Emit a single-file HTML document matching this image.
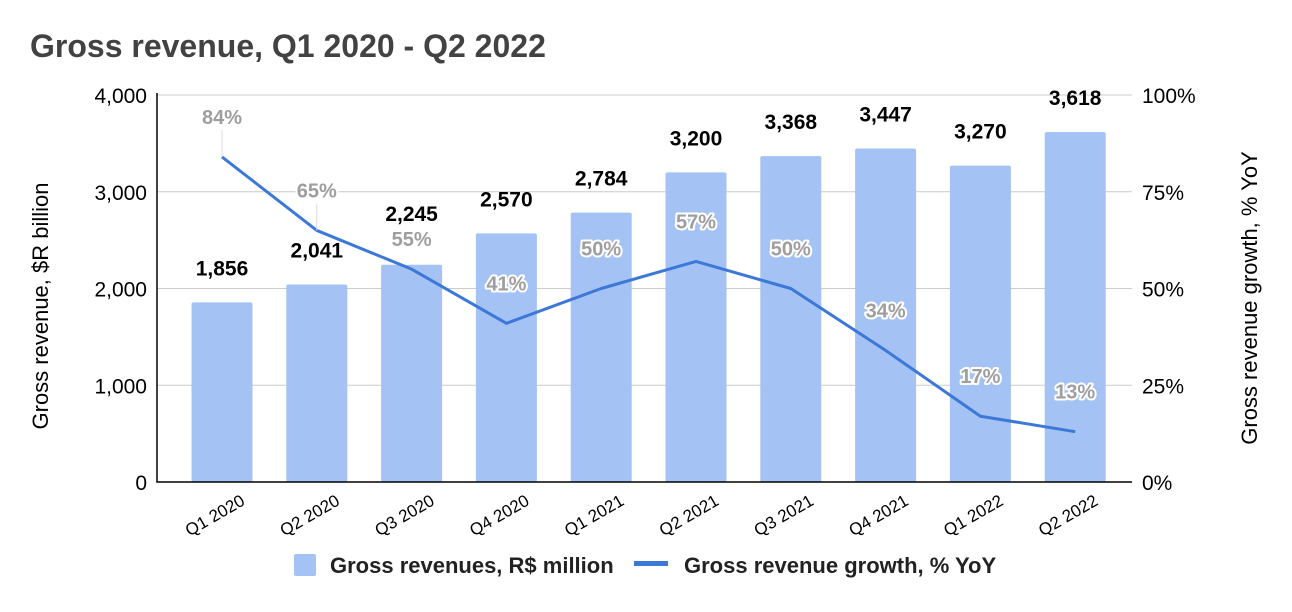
<!DOCTYPE html>
<html><head><meta charset="utf-8"><style>
body{margin:0;background:#fff;}
svg text{font-family:"Liberation Sans",Arial,sans-serif;}
</style></head><body>
<svg id="chart" width="1292" height="607" viewBox="0 0 1292 607">
<text x="30" y="57" font-size="32" font-weight="bold" fill="#424242">Gross revenue, Q1 2020 - Q2 2022</text>
<g id="grid"></g><g id="bars"></g><g id="line"></g><g id="labels"></g><g id="axes"></g>
<text transform="translate(48,306) rotate(-90)" text-anchor="middle" font-size="22" fill="#000">Gross revenue, $R billion</text>
<text transform="translate(1257,298) rotate(-90)" text-anchor="middle" font-size="22" fill="#000">Gross revenue growth, % YoY</text>
<g>
<rect x="294" y="554" width="22" height="22" rx="2" fill="#a4c2f4"/>
<text x="330" y="573" font-size="22" font-weight="bold" fill="#222">Gross revenues, R$ million</text>
<rect x="634" y="561" width="34" height="5" fill="#3c78d8"/>
<text x="684" y="573" font-size="22" font-weight="bold" fill="#222">Gross revenue growth, % YoY</text>
</g>
</svg>
<script>
const categories=["Q1 2020","Q2 2020","Q3 2020","Q4 2020","Q1 2021","Q2 2021","Q3 2021","Q4 2021","Q1 2022","Q2 2022"];
const revenue=[1856,2041,2245,2570,2784,3200,3368,3447,3270,3618];
const growth=[84,65,55,41,50,57,50,34,17,13];
const leftTicks=[0,1000,2000,3000,4000];
const rightTicks=[0,25,50,75,100];
const NS="http://www.w3.org/2000/svg";
const L=174.6,R=1122.6,T=95,B=482;
const band=(R-L)/categories.length;
const xc=i=>L+band*(i+0.5);
const yL=v=>B-(v/4000)*(B-T);
const yR=v=>B-(v/100)*(B-T);
function mk(tag,attrs,parent){const e=document.createElementNS(NS,tag);for(const k in attrs)e.setAttribute(k,attrs[k]);document.getElementById(parent).appendChild(e);return e;}
leftTicks.forEach((t,i)=>{
 const g=mk('line',{x1:157,x2:1132,y1:yL(t),y2:yL(t),stroke:'#ccc','stroke-width':1},'grid');
 
 
 const tx=mk('text',{x:147,y:yL(t)+8,'text-anchor':'end','font-size':21,fill:'#000'},'axes');
 tx.textContent=t.toLocaleString('en-US');
 
 
});
rightTicks.forEach(t=>{
 const tx=mk('text',{x:1142,y:yR(t)+8,'font-size':21,fill:'#000'},'axes');
 tx.textContent=t+'%';
 
 
});
const ax=mk('path',{d:`M157,${T-2} V${B} H1132`,fill:'none',stroke:'#000','stroke-width':1.5},'axes');


categories.forEach((c,i)=>{
 const b=mk('rect',{x:xc(i)-30.5,y:yL(revenue[i]),width:61,height:B-yL(revenue[i]),rx:2,fill:'#a4c2f4'},'bars');
 
 
 let vy=yL(revenue[i])-27;
 if(yR(growth[i])-28>yL(revenue[i])-50 && yR(growth[i])-28<yL(revenue[i])) vy=yL(revenue[i])-44;
 const v=mk('text',{x:xc(i),y:vy,'text-anchor':'middle','font-size':21,'font-weight':'bold',fill:'#000'},'labels');
 v.textContent=revenue[i].toLocaleString('en-US');
 
 
 const cx=mk('text',{x:0,y:0,'text-anchor':'end','font-size':17,fill:'#000',transform:`translate(${xc(i)+24},${B+22}) rotate(-30)`},'axes');
 cx.textContent=c;
 
 
});
const pts=growth.map((g,i)=>`${xc(i)},${yR(g)}`).join(' ');
const pl=mk('polyline',{points:pts,fill:'none',stroke:'#3c78d8','stroke-width':3,'stroke-linejoin':'round'},'line');


growth.forEach((g,i)=>{
 const y=yR(g)-(i===2?23:33);
 if(i<2){const ld=mk('line',{x1:xc(i),x2:xc(i),y1:y+6,y2:yR(g),stroke:'#ddd','stroke-width':1},'labels');
  
  }
 const t=mk('text',{x:xc(i),y:y,'text-anchor':'middle','font-size':20,'font-weight':'bold',fill:'#9e9e9e',stroke:'#fff','stroke-width':4,'paint-order':'stroke','stroke-linejoin':'round'},'labels');
 t.textContent=g+'%';
 
 
});
</script>
</body></html>
